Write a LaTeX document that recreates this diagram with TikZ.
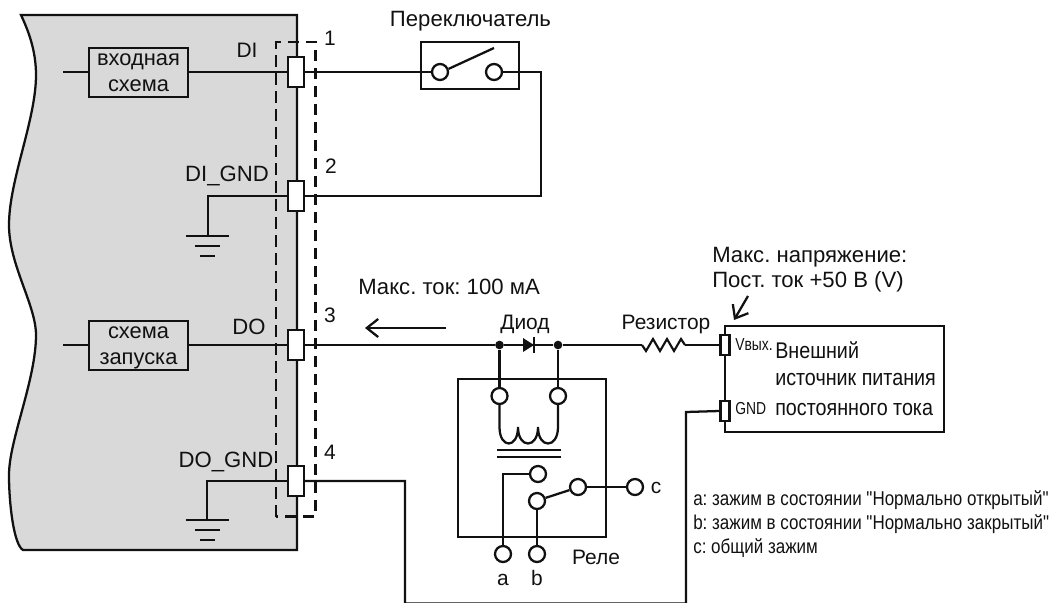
\documentclass[tikz,border=0pt]{standalone}
\usepackage{fontspec}
\setmainfont{Liberation Sans}
\newfontfamily\notefont{Liberation Sans}
\usetikzlibrary{arrows.meta}
\newcommand{\nrw}[2][0.87]{\scalebox{#1}[1]{#2}}
\definecolor{bodygray}{HTML}{D9D9D9}
\definecolor{ink}{HTML}{111111}
\tikzset{
  wire/.style={draw=ink,line width=1.7pt,line join=miter},
  thinwire/.style={draw=ink,line width=1.6pt},
  txt/.style={inner sep=0pt,text=ink,font=\frenchspacing\fontsize{15.7pt}{18pt}\selectfont},
  bigtxt/.style={inner sep=0pt,text=ink,font=\frenchspacing\fontsize{16.6pt}{18pt}\selectfont},
  psutxt/.style={inner sep=0pt,text=ink,font=\frenchspacing\fontsize{17pt}{18pt}\selectfont},
  smalltxt/.style={inner sep=0pt,text=ink,font=\frenchspacing\notefont\fontsize{15pt}{18pt}\selectfont},
  tinytxt/.style={inner sep=0pt,text=ink,font=\fontsize{13pt}{15pt}\selectfont},
  circuitbox/.style={draw=ink,line width=1.7pt,fill=bodygray,inner sep=0pt,minimum width=74.25pt,minimum height=36.75pt,align=center,text depth=0pt,font=\fontsize{16.4pt}{19.2pt}\selectfont,text=ink},
  plainbox/.style={draw=ink,line width=1.7pt,inner sep=0pt},
  term/.style={draw=ink,line width=1.7pt,fill=white,inner sep=0pt,minimum width=12pt,minimum height=23pt},
  pterm/.style={draw=ink,line width=1.6pt,fill=white,inner sep=0pt,minimum width=6.75pt,minimum height=15.5pt},
  pin/.style={circle,draw=ink,line width=1.7pt,fill=white,inner sep=0pt,minimum size=12pt},
  dot/.style={circle,fill=ink,inner sep=0pt,minimum size=6.5pt},
  barb/.style={wire,-{Straight Barb[length=8.5pt,width=13.5pt,line width=1.7pt]}}
}
\begin{document}
\begin{tikzpicture}[x=0.75pt,y=-0.75pt]
\useasboundingbox (0,0) rectangle (1053,603);
% device body
\draw[wire,fill=bodygray] (21,15) -- (297,15) -- (297,550) -- (23,550)
  .. controls (14,545) and (9,505) .. (9,475)
  .. controls (9,440) and (36,380) .. (36,335)
  .. controls (36,305) and (9,265) .. (9,225)
  .. controls (9,180) and (36,120) .. (36,75)
  .. controls (36,50) and (28,30) .. (21,15) -- cycle;
% coordinates
\coordinate (inL) at (63,72);
\coordinate (drvL) at (63,345);
\coordinate (swR) at (541,72);
\coordinate (swRb) at (541,196);
\coordinate (g1) at (208,196);
\coordinate (g1b) at (208,236);
\coordinate (g2) at (207,481);
\coordinate (g2b) at (207,520);
\coordinate (lowL) at (405,481);
\coordinate (lowLb) at (405,603.4);
\coordinate (lowRb) at (686,603.4);
\coordinate (lowR) at (686,412);
% boxes
\node[circuitbox] (inbox) at (138.5,72.5) {входная\\схема};
\node[circuitbox] (drvbox) at (138.5,345.5) {схема\\запуска};
\node[plainbox,minimum width=73.5pt,minimum height=35.25pt] (swbox) at (470,65.5) {};
\node[plainbox,minimum width=111pt,minimum height=118.5pt] (relay) at (532,458) {};
\node[plainbox,minimum width=164.25pt,minimum height=79.5pt] (psu) at (834.5,379) {};
% terminals
\coordinate (t1c) at (296,72);
\coordinate (t2c) at (296,196);
\coordinate (t3c) at (296,345);
\coordinate (t4c) at (296,481);
% wires in the device
\draw[wire] (inL) -- (inL -| inbox.west);
\draw[wire] (drvL) -- (drvL -| drvbox.west);
\draw[wire] (inbox.east |- t1c) -- (t1c);
\draw[wire] (drvbox.east |- t3c) -- (t3c);
\draw[wire] (t2c) -- (g1) -- (g1b);
\draw[wire] (t4c) -- (g2) -- (g2b);
% ground symbols
\draw[wire] (186,236) -- (229,236) (195,246) -- (220,246) (200,256) -- (215,256);
\draw[wire] (186,520) -- (229,520) (195,530) -- (220,530) (200,540) -- (215,540);
% dashed frame
\draw[draw=ink,line width=1.6pt,dash pattern=on 8.5pt off 5pt] (276,516.5) -- (276,42) -- (315.5,42) -- (315.5,516.5) -- cycle;
% switch
\node[pin] (sw1) at (440,72) {};
\node[pin] (sw2) at (494,72) {};
\node[term] (t1) at (t1c) {};
\node[term] (t2) at (t2c) {};
\node[term] (t3) at (t3c) {};
\node[term] (t4) at (t4c) {};
\coordinate (armEnd) at (494,48);
\draw[wire] (t1.east) -- (sw1.west);
\draw[wire] (sw2.east) -- (swR) -- (swRb) -- (t2.east);
\draw[wire] (sw1.20) -- (armEnd);
% power unit terminals
\node[pterm] (vout) at (725,345) {};
\node[pterm] (gndout) at (725,411) {};
% line 3
\node[dot] (j1) at (499.5,345) {};
\node[dot] (j2) at (558,345) {};
\coordinate (rL) at (642,345);
\coordinate (rR) at (685,345);
\draw[wire] (t3.east) -- (j1) -- (j2) -- (rL);
\draw[thinwire] (rL) -- (646,351) -- (653,339) -- (660,351) -- (667,339) -- (674,351) -- (681,339) -- (rR);
\draw[wire] (rR) -- (vout.west);
% diode
\fill[ink] (523,338) -- (534,345) -- (523,352) -- cycle;
\draw[wire] (534,337) -- (534,353);
% arrows
\coordinate (curA) at (446,328);
\coordinate (curB) at (365,328);
\draw[barb] (curA) -- (curB);
\coordinate (vA) at (748,296);
\coordinate (vB) at (734,320);
\draw[barb] (vA) -- (vB);
% relay
\node[pin] (c1) at (499.5,396) {};
\node[pin] (c2) at (558,396) {};
\draw[wire] (j1) -- (c1);
\draw[wire] (j2) -- (c2);
\draw[wire] (c1.south) -- (499.5,427)
  .. controls (499.5,449) and (518,449) .. (518,427)
  .. controls (518,449) and (538,449) .. (538,427)
  .. controls (538,449) and (558,449) .. (558,427) -- (c2.south);
\draw[wire] (497,450) -- (561,450) (497,457) -- (561,457);
\node[pin] (k1) at (538,474) {};
\node[pin] (k2) at (537,501) {};
\node[pin] (k3) at (578,487) {};
\node[pin] (kc) at (635,487) {};
\node[pin] (ka) at (503,554) {};
\node[pin] (kb) at (537,554) {};
\draw[wire] (k1.west) -- (k1.west -| ka) -- (ka.north);
\draw[wire] (k2.south) -- (kb.north);
\draw[wire] (k2.20) -- (k3.200);
\draw[wire] (k3.east) -- (kc.west);
% bottom return wire
\draw[wire] (t4.east) -- (lowL) -- (lowLb) -- (lowRb) -- (lowR) -- (gndout.west);
% labels
\node[bigtxt] (lblSw) at (470.5,21) {Переключатель};
\node[txt] (lblDI) at (247,50) {DI};
\node[bigtxt] (lblDIG) at (227,176) {DI\_GND};
\node[bigtxt] (lblDO) at (249,327) {DO};
\node[bigtxt] (lblDOG) at (226,462) {DO\_GND};
\node[txt] (n1) at (330,38) {1};
\node[txt] (n2) at (331,166) {2};
\node[txt] (n3) at (330,315) {3};
\node[txt] (n4) at (330,452) {4};
\node[bigtxt,anchor=west] (lblI) at (358,287) {Макс. ток: 100 мА};
\node[txt] (lblD) at (525,324) {Диод};
\node[txt] (lblR) at (666,324) {Резистор};
\node[bigtxt,anchor=west] (lblV1) at (712,257) {Макс. напряжение:};
\node[bigtxt,anchor=west] (lblV2) at (712,282) {Пост. ток +50 В (V)};
\node[tinytxt,anchor=west] (lblVout) at (735,345) {\nrw[0.8]{Vвых.}};
\node[tinytxt,anchor=west] (lblGnd) at (735,409) {\nrw[0.8]{GND}};
\node[psutxt,anchor=west] (psu1) at (775,350) {\nrw{Внешний}};
\node[psutxt,anchor=west] (psu2) at (775,380) {\nrw{источник питания}};
\node[psutxt,anchor=west] (psu3) at (775,410) {\nrw{постоянного тока}};
\node[txt,anchor=base] (la) at (503,585) {a};
\node[txt,anchor=base] (lb) at (537,585) {b};
\node[txt,anchor=base] (lc) at (656,493) {c};
\node[txt] (lr) at (596,557) {Реле};
\node[smalltxt,anchor=west] (na) at (693,500) {\nrw[0.85]{a: зажим в состоянии "Нормально открытый"}};
\node[smalltxt,anchor=west] (nb) at (693,524) {\nrw[0.85]{b: зажим в состоянии "Нормально закрытый"}};
\node[smalltxt,anchor=west] (nc) at (693,548) {\nrw[0.85]{c: общий зажим}};
\end{tikzpicture}
\end{document}
